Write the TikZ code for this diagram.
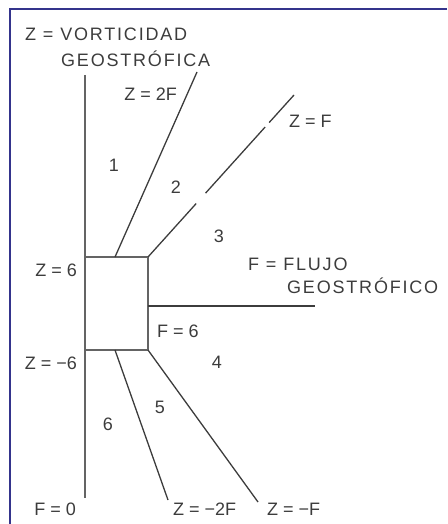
\documentclass[tikz,border=0pt]{standalone}
\usepackage{fontspec}
\setmainfont{Liberation Sans}
\newfontfamily\spacedfont[LetterSpace=10]{Liberation Sans}
\definecolor{framecol}{RGB}{52,52,140}
\definecolor{inkcol}{RGB}{60,60,60}
\definecolor{axiscol}{RGB}{100,100,100}

\begin{document}
\begin{tikzpicture}[x=1pt, y=-1pt,
    lbl/.style={font=\fontsize{18}{20}\selectfont, text=inkcol, inner sep=0pt},
    ttl/.style={lbl, font=\spacedfont\fontsize{18}{20}\selectfont, anchor=base west},
    ray/.style={draw=inkcol, line width=1.3pt},
    axis/.style={draw=axiscol, line width=1.8pt}
]
    \useasboundingbox (0,0) rectangle (447,524);

    % frame
    \coordinate (frTR) at (447, 9);
    \coordinate (frTL) at (10, 9);
    \coordinate (frBL) at (10, 524);
    \draw[framecol, line width=2.5pt] (frTR) -- (frTL) -- (frBL);

    % box and axis
    \coordinate (TL) at (85, 257);
    \coordinate (TR) at (148, 257);
    \coordinate (BR) at (148, 350);
    \coordinate (BL) at (85, 350);
    \coordinate (Ztop) at (85, 75);
    \coordinate (Zbot) at (85, 498);
    \draw[axis] (TL) -- (TR) -- (BR) -- (BL);
    \draw[axis] (Ztop) -- (Zbot);

    % rays
    \coordinate (A2F) at (115, 257);
    \coordinate (E2F) at (197, 72);
    \coordinate (EF) at (294, 95);
    \coordinate (Fmid) at (148, 306);
    \coordinate (EFh) at (315, 306);
    \coordinate (Am2F) at (115, 350);
    \coordinate (Em2F) at (168, 500);
    \coordinate (EmF) at (258, 502);

    \draw[ray] (A2F) -- (E2F);
    \draw[ray, dash pattern=on 72pt off 14pt on 89pt off 6pt on 40pt] (TR) -- (EF);
    \draw[ray, line width=1.5pt] (Fmid) -- (EFh);
    \draw[ray] (Am2F) -- (Em2F);
    \draw[ray] (BR) -- (EmF);

    % titles
    \node[ttl] (Zt1) at (25, 41) {Z = VORTICIDAD};
    \node[ttl] (Zt2) at (61, 67) {GEOSTRÓFICA};
    \node[ttl] (Ft1) at (248, 270) {F = FLUJO};
    \node[ttl] (Ft2) at (287, 293) {GEOSTRÓFICO};

    % labels
    \node[lbl, anchor=base east] (L2F) at (177, 101) {Z = 2F};
    \node[lbl, anchor=base west] (LF) at (289, 127) {Z = F};
    \node[lbl, anchor=base east] (LZ6) at (77, 276) {Z = 6};
    \node[lbl, anchor=base east] (LZm6) at (77, 369) {Z = −6};
    \node[lbl, anchor=base west] (LF6) at (157, 337) {F = 6};
    \node[lbl, anchor=base east] (LF0) at (76, 515) {F = 0};
    \node[lbl, anchor=base west] (Lm2F) at (173, 515) {Z = −2F};
    \node[lbl, anchor=base west] (LmF) at (267, 515) {Z = −F};

    % regions
    \node[lbl, anchor=base] (R1) at (114, 171) {1};
    \node[lbl, anchor=base] (R2) at (176, 193) {2};
    \node[lbl, anchor=base] (R3) at (219, 242) {3};
    \node[lbl, anchor=base] (R4) at (217, 368) {4};
    \node[lbl, anchor=base] (R5) at (160, 413) {5};
    \node[lbl, anchor=base] (R6) at (108, 430) {6};
\end{tikzpicture}
\end{document}
